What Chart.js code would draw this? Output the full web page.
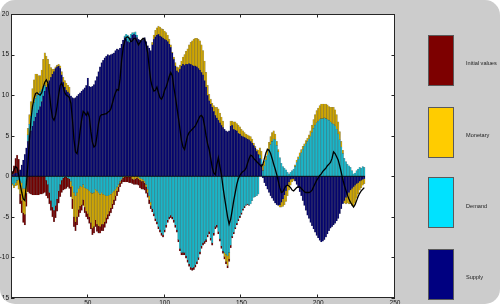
<!DOCTYPE html>
<html><head><meta charset="utf-8">
<script src="https://cdn.jsdelivr.net/npm/chart.js@4.4.1/dist/chart.umd.min.js"></script>
<style>
html,body{margin:0;padding:0;background:#fff;}
#wrap{position:relative;width:500px;height:304px;background:#cccccc;border-radius:15px;overflow:hidden;}
#c{position:absolute;left:0;top:0;width:500px;height:304px;}
.lg-box{position:absolute;left:428px;width:26px;height:51px;border:1px solid #5a5a5a;box-sizing:border-box;}
.lg-txt{position:absolute;left:466px;font-family:"Liberation Sans",Arial,sans-serif;font-size:5.6px;line-height:6px;color:#222;white-space:nowrap;}
</style></head>
<body>
<div id="wrap"><canvas id="c" width="500" height="304"></canvas><div id="legend"></div></div>
<script>
const seriesNames = ['Initial values', 'Monetary', 'Demand', 'Supply'];
const legendColors = ['#7d0000', '#ffcc00', '#00e2ff', '#000080'];
const barColors = ['#720000', '#cfa600', '#18b6c9', '#05056e'];
const yTicks = [-15, -10, -5, 0, 5, 10, 15, 20];
const xTicks = [50, 100, 150, 200, 250];

const supply = [
0.2,0.3,0.4,0.4,0.5,0.8,1.4,2.0,2.7,3.5,
4.3,5.0,5.6,6.2,6.8,7.3,7.8,8.2,8.6,9.2,
9.9,10.5,11.0,11.4,11.8,12.2,12.6,12.9,13.3,13.5,
13.6,13.3,12.5,11.6,11.0,10.6,10.4,10.2,9.9,9.7,
9.6,9.7,9.9,10.1,10.3,10.5,10.7,10.9,11.2,12.1,
11.1,11.0,11.1,11.3,11.8,12.3,12.9,13.5,14.0,14.3,
14.6,14.8,15.0,14.9,15.0,15.1,15.2,15.5,15.7,15.6,
15.8,16.3,16.8,17.1,16.9,16.6,16.5,17.0,17.4,17.5,
17.4,17.1,16.9,16.8,16.7,16.9,17.1,16.6,16.1,15.8,
15.5,16.2,16.9,17.2,17.4,17.5,17.3,17.2,17.0,16.9,
16.8,16.6,16.3,15.9,15.2,14.4,13.6,13.0,12.8,13.2,
13.6,13.8,13.7,13.8,13.8,13.9,13.8,13.7,13.6,13.6,
13.5,13.3,13.1,12.8,12.5,11.8,11.0,10.0,9.3,8.9,
8.5,8.0,7.5,7.2,6.9,6.6,6.3,6.0,5.8,5.6,
5.5,5.6,6.2,6.3,5.8,5.7,5.6,5.3,5.2,5.0,
4.9,4.8,4.7,4.6,4.5,4.3,4.1,3.8,3.5,3.1,
2.7,2.2,1.5,-0.2,-0.8,-1.2,-1.6,-2.0,-2.4,-2.7,
-3.0,-3.3,-3.5,-3.6,-3.5,-3.2,-2.8,-2.3,-1.8,-1.2,
-0.7,-0.4,-0.3,-0.3,-0.6,-1.0,-1.4,-1.9,-2.4,-3.0,
-3.6,-4.2,-4.8,-5.2,-5.7,-6.1,-6.5,-6.9,-7.3,-7.6,
-7.9,-8.1,-8.0,-7.8,-7.5,-7.1,-6.7,-6.4,-6.2,-6.0,
-5.8,-5.5,-5.2,-4.6,-4.0,-3.4,-3.0,-2.6,-2.3,-2.0,
-1.7,-1.5,-1.3,-1.1,-0.9,-0.8,-0.6,-0.5,-0.4,-0.3
];
const demand = [
-0.9,-1.1,-0.8,-0.5,-0.4,-0.6,-0.8,-1.5,-1.5,-0.6,
0.8,1.4,1.8,2.1,2.3,2.3,2.2,2.0,1.8,1.5,
1.1,0.7,-0.5,-1.0,-2.0,-3.0,-3.8,-4.2,-3.6,-2.8,
-1.8,-1.0,-0.5,-0.2,-0.1,-0.1,-0.2,-0.3,-0.6,-1.2,
-2.0,-2.4,-2.0,-1.5,-1.2,-1.3,-1.0,-1.4,-1.5,-1.6,
-1.8,-2.0,-2.1,-2.0,-1.6,-1.8,-2.0,-2.2,-2.0,-2.2,
-2.3,-2.4,-2.4,-2.3,-2.2,-2.0,-1.8,-1.6,-1.3,-1.0,
-0.6,-0.3,-0.1,0.2,0.6,0.8,0.7,0.5,0.3,0.2,
0.4,0.3,-0.1,-0.2,-0.3,-0.4,-0.6,-1.0,-1.6,-2.4,
-3.2,-4.0,-4.6,-5.2,-5.6,-6.2,-6.6,-7.0,-7.2,-6.6,
-6.0,-5.4,-5.0,-4.8,-5.0,-5.4,-6.0,-6.6,-7.8,-8.9,
-9.4,-9.4,-9.4,-9.8,-10.3,-10.8,-11.2,-11.3,-11.2,-10.9,
-10.5,-10.0,-9.3,-8.6,-8.2,-8.0,-7.8,-7.2,-6.8,-7.6,
-8.2,-7.0,-6.2,-6.0,-6.8,-7.7,-8.6,-9.2,-9.4,-9.6,
-9.8,-9.4,-8.5,-7.4,-6.9,-6.3,-5.8,-5.3,-4.9,-4.5,
-4.0,-3.7,-3.5,-3.4,-3.5,-3.4,-3.0,-2.6,-2.5,-2.4,
-2.2,0.4,0.6,0.7,1.3,2.0,2.6,3.3,3.9,4.3,
4.6,4.5,3.8,3.0,2.3,1.6,1.2,1.0,0.8,0.5,
0.3,0.5,0.7,0.9,1.2,1.7,2.1,2.5,2.9,3.3,
3.7,4.0,4.3,4.6,4.9,5.4,5.9,6.3,6.6,6.8,
7.0,7.1,7.1,7.2,7.1,7.0,6.9,6.7,6.5,6.4,
6.2,5.8,5.2,4.5,3.6,2.8,2.2,1.8,1.5,1.3,
1.1,0.7,0.3,0.4,0.7,0.9,1.1,1.0,1.2,1.1
];
const monetary = [
-0.2,-0.3,-0.4,-0.6,-1.2,-1.6,-2.2,-3.0,-3.2,-1.5,
0.8,1.2,1.8,2.5,2.8,3.0,2.6,2.2,2.0,2.4,
3.4,4.0,3.8,3.0,2.0,1.2,0.6,0.3,0.2,0.2,
0.2,0.3,0.4,0.6,0.8,0.9,0.8,0.8,-0.7,-1.6,
-3.0,-3.2,-3.0,-2.6,-2.5,-2.2,-1.9,-2.4,-2.8,-3.0,
-3.2,-3.7,-4.3,-4.2,-3.8,-4.1,-4.1,-4.0,-3.9,-3.7,
-3.3,-2.7,-2.3,-2.0,-1.7,-1.4,-1.1,-0.8,-0.5,-0.3,
-0.2,-0.1,-0.1,-0.1,-0.1,-0.1,-0.1,-0.1,-0.3,-0.4,
-0.3,-0.2,-0.2,-0.3,-0.3,-0.2,-0.2,-0.3,-0.4,-0.5,
-0.4,0.3,0.5,0.8,0.9,1.0,1.1,1.0,1.1,1.0,
0.9,0.8,0.6,0.3,0.1,0.3,0.4,0.5,0.6,0.5,
0.6,0.9,1.3,1.6,1.9,2.3,2.7,3.0,3.3,3.4,
3.5,3.6,3.6,3.4,3.0,2.4,1.8,1.2,0.8,0.6,
0.5,0.7,1.0,1.3,1.4,1.2,1.0,0.8,-0.5,-0.9,
-1.2,-0.8,0.6,0.5,0.9,1.0,0.9,1.0,0.9,0.8,
0.7,0.6,0.5,0.5,0.5,0.6,0.5,0.3,0.2,0.2,
0.5,0.9,1.0,0.8,0.6,0.5,0.8,0.9,1.0,1.1,
1.0,0.7,0.5,0.3,-0.3,-0.6,-0.9,-1.2,-1.3,-1.2,
-1.0,-0.7,-0.4,-0.2,0.2,0.3,0.3,0.4,0.4,0.4,
0.3,0.4,0.4,0.5,0.7,0.9,1.1,1.3,1.5,1.6,
1.7,1.8,1.8,1.7,1.8,1.8,1.7,1.8,2.0,2.1,
2.0,1.8,1.5,1.0,0.7,0.4,-0.3,-0.8,-1.0,-1.4,
-1.7,-2.1,-2.4,-2.2,-1.8,-1.4,-1.1,-0.9,-0.7,-0.6
];
const initialValues = [
0.4,1.0,1.8,2.2,1.6,-1.2,-1.5,-1.2,-1.3,-1.6,
-1.9,-2.1,-2.2,-2.3,-2.3,-2.3,-2.3,-2.3,-2.2,-2.2,
-2.1,-2.0,-1.9,-1.7,-1.4,-1.2,-1.2,-1.4,-1.5,-1.5,
-1.5,-1.5,-1.5,-1.5,-1.5,-1.4,-1.1,-1.2,-1.2,-1.2,
-1.2,-1.1,-1.0,-0.9,-0.8,-0.7,-0.7,-0.7,-0.7,-0.7,
-0.8,-0.8,-0.8,-0.8,-0.8,-0.9,-0.9,-0.8,-0.8,-0.8,
-0.7,-0.7,-0.6,-0.6,-0.6,-0.6,-0.6,-0.6,-0.6,-0.6,
-0.5,-0.5,-0.5,-0.6,-0.6,-0.6,-0.7,-0.7,-0.6,-0.6,
-0.7,-0.8,-0.8,-0.9,-1.0,-1.0,-0.9,-0.8,-0.6,-0.5,
-0.4,-0.4,-0.3,-0.3,-0.3,-0.3,-0.3,-0.3,-0.3,-0.3,
-0.3,-0.3,-0.3,-0.3,-0.3,-0.3,-0.3,-0.3,-0.3,-0.3,
-0.3,-0.3,-0.3,-0.3,-0.3,-0.3,-0.3,-0.3,-0.3,-0.3,
-0.3,-0.3,-0.3,-0.3,-0.3,-0.3,-0.3,-0.3,-0.3,-0.3,
-0.3,-0.3,-0.3,-0.3,-0.3,-0.3,-0.3,-0.3,-0.3,-0.3,
-0.3,-0.3,-0.3,-0.2,-0.2,-0.2,-0.2,-0.2,-0.2,-0.2,
-0.2,-0.2,-0.1,-0.1,-0.1,0,0,0,0,0,
0,0,0,0,0,0,0,0,0,0,
0,0,0,0,0,0,0,0,0,0,
0,0,0,0,0,0,0,0,0,0,
0,0,0,0,0,0,0,0,0,0,
0,0,0,0,0,0,0,0,0,0,
0,0,0,0,0,0,0,0,0,0,
0,0,0,0,0,0,0,0,0,0
];
const observed = [
0.3,0.8,1.2,1.0,0.2,-1.0,-2.0,-2.8,-3.0,-1.0,
1.5,4.5,7.0,8.6,9.6,10.2,10.3,10.1,10.0,10.3,
11.0,11.6,11.9,11.5,10.2,8.5,7.2,6.9,7.5,8.6,
10.0,11.2,11.5,11.0,10.3,10.0,9.9,9.7,9.0,7.0,
4.5,3.0,2.8,4.0,5.6,7.0,8.0,7.8,7.5,7.9,
7.3,5.5,4.2,3.6,3.8,5.0,6.5,7.4,7.6,7.6,
7.7,7.7,7.9,8.0,8.3,9.0,9.7,10.3,10.7,10.6,
12.0,14.3,15.8,16.6,17.1,17.2,17.0,16.6,16.7,17.0,
17.0,16.6,16.2,16.5,16.8,17.0,16.9,16.2,15.2,13.4,
11.8,11.0,10.5,10.6,11.0,10.3,9.7,9.5,9.9,10.6,
11.0,11.6,12.3,12.8,12.4,11.0,9.8,8.5,7.2,5.8,
4.4,3.6,3.3,4.2,5.0,5.4,5.6,5.8,6.0,6.2,
6.6,7.0,7.4,7.5,7.2,6.2,5.0,4.0,3.3,2.2,
1.1,0.4,0.2,1.4,2.3,1.2,0.2,-1.3,-2.6,-3.8,
-5.0,-5.9,-5.3,-4.2,-3.0,-2.0,-1.0,-0.3,0.1,0.4,
0.6,0.7,1.0,1.6,2.2,2.6,2.5,2.2,2.0,1.8,
1.6,1.4,1.2,1.5,2.2,2.9,3.3,3.2,2.8,2.2,
1.5,0.9,0.2,-0.6,-1.4,-2.0,-1.9,-1.5,-1.2,-1.1,
-1.2,-1.4,-1.7,-1.8,-1.6,-1.4,-1.3,-1.3,-1.5,-1.7,
-1.9,-2.0,-2.0,-2.0,-1.9,-1.7,-1.3,-0.9,-0.5,-0.2,
0.1,0.3,0.6,0.8,1.0,1.3,1.5,1.7,2.2,3.0,
2.8,2.4,2.0,1.3,0.5,-0.4,-1.1,-1.7,-2.3,-2.8,
-3.2,-3.5,-3.8,-3.5,-3.0,-2.5,-2.1,-1.8,-1.6,-1.4
];
const periods = supply.map((_, i) => i + 1);

const pts = arr => arr.map((v, i) => ({x: periods[i], y: v}));
const stackOrder = [
  {name: 'Supply', data: supply, idx: 3},
  {name: 'Demand', data: demand, idx: 2},
  {name: 'Monetary', data: monetary, idx: 1},
  {name: 'Initial values', data: initialValues, idx: 0}
];
const barSets = stackOrder.map(s => ({
  type: 'bar', label: s.name, data: pts(s.data),
  backgroundColor: barColors[s.idx],
  borderColor: 'rgba(0,0,0,0.45)', borderWidth: 0.35, borderSkipped: false,
  barPercentage: 1, categoryPercentage: 1, order: 1, stack: 'hd'
}));
const lineSet = {
  type: 'line', label: 'Observed', data: pts(observed),
  borderColor: '#000', borderWidth: 1.3, pointRadius: 0, tension: 0,
  fill: false, order: 0, stack: 'obs'
};

const FONT = {family: '"Liberation Sans", Arial, sans-serif', size: 6.5};
const framePlugin = {
  id: 'frame',
  beforeDraw(chart) {
    const {ctx, chartArea: a} = chart;
    ctx.save(); ctx.fillStyle = '#fff';
    ctx.fillRect(a.left, a.top, a.right - a.left, a.bottom - a.top);
    ctx.restore();
  },
  afterDatasetsDraw(chart) {
    const {ctx, chartArea: a, scales: {x, y}} = chart;
    ctx.save();
    const y0 = y.getPixelForValue(0);
    ctx.strokeStyle = '#000'; ctx.lineWidth = 0.8;
    ctx.beginPath();
    ctx.moveTo(x.getPixelForValue(periods[0] - 0.5), y0);
    ctx.lineTo(x.getPixelForValue(periods[periods.length - 1] + 0.5), y0);
    ctx.stroke();
    ctx.strokeStyle = '#262626'; ctx.lineWidth = 1;
    ctx.strokeRect(a.left + 0.5, a.top + 0.5, a.right - a.left - 1, a.bottom - a.top - 1);
    ctx.beginPath();
    yTicks.forEach(v => {
      const p = Math.round(y.getPixelForValue(v)) + 0.5;
      ctx.moveTo(a.left, p); ctx.lineTo(a.left + 3.5, p);
      ctx.moveTo(a.right, p); ctx.lineTo(a.right - 3.5, p);
    });
    xTicks.forEach(v => {
      const p = Math.round(x.getPixelForValue(v)) - 0.5;
      ctx.moveTo(p, a.bottom); ctx.lineTo(p, a.bottom - 3.5);
      ctx.moveTo(p, a.top); ctx.lineTo(p, a.top + 3.5);
    });
    ctx.stroke();
    ctx.restore();
  }
};

new Chart(document.getElementById('c'), {
  type: 'bar',
  data: {datasets: [lineSet, ...barSets]},
  options: {
    responsive: false, animation: false, devicePixelRatio: 1,
    layout: {padding: {left: 0, right: 105, top: 14, bottom: 0}},
    plugins: {legend: {display: false}, tooltip: {enabled: false}},
    scales: {
      x: {
        type: 'linear', min: 0, max: 250, stacked: true, offset: false,
        afterBuildTicks: s => { s.ticks = xTicks.map(v => ({value: v})); },
        afterFit: s => { s.height = 6; },
        ticks: {font: FONT, color: '#111', padding: 1, maxRotation: 0, autoSkip: false},
        grid: {display: false, drawTicks: false}, border: {display: false}
      },
      y: {
        type: 'linear', min: -15, max: 20, stacked: true,
        afterBuildTicks: s => { s.ticks = yTicks.map(v => ({value: v})); },
        afterFit: s => { s.width = 11; },
        ticks: {font: FONT, color: '#111', padding: 2, autoSkip: false},
        grid: {display: false, drawTicks: false}, border: {display: false}
      }
    }
  },
  plugins: [framePlugin]
});

const lg = document.getElementById('legend');
const boxTops = [35, 107, 177, 249];
const txtMid = [63, 135, 206, 277];
seriesNames.forEach((n, i) => {
  const b = document.createElement('div');
  b.className = 'lg-box'; b.style.top = boxTops[i] + 'px'; b.style.background = legendColors[i];
  lg.appendChild(b);
  const t = document.createElement('div');
  t.className = 'lg-txt'; t.style.top = (txtMid[i] - 3) + 'px'; t.textContent = n;
  lg.appendChild(t);
});
</script>
</body></html>
